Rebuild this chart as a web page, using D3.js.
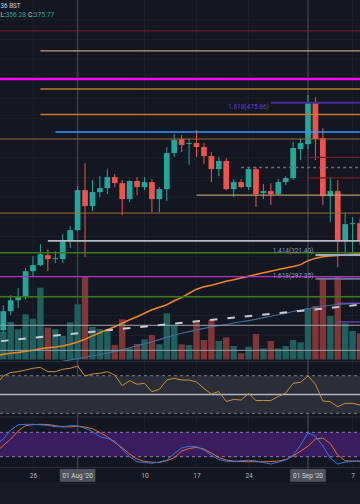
<!DOCTYPE html>
<html><head><meta charset="utf-8">
<script src="https://cdn.jsdelivr.net/npm/d3@7"></script>
<style>html,body{margin:0;padding:0;background:#131722;overflow:hidden}svg{display:block}</style>
</head><body>
<svg id="c" width="360" height="504"></svg>
<script>
// ---------- DATA ----------
const candleStart = "2020-07-22", candleEnd = "2020-09-08";
const open  = [245.1,264.4,275.5,278.6,305.0,311.1,321.2,317.2,317.2,335.4,
  346.6,387.2,371.0,385.2,389.2,400.4,394.3,378.1,396.4,390.3,
  395.3,378.1,388.2,424.8,439.0,433.9,434.9,430.9,421.7,408.5,
  416.7,388.2,395.3,390.3,408.5,384.2,386.2,383.2,395.3,399.4,428.8,
  433.9,475.6,440.0,381.1,386.2,336.4,352.7,353.7];
const high  = [270.4,280.6,287.7,308.0,320.2,332.4,327.3,325.3,342.5,350.7,
  391.3,414.6,397.4,401.4,408.5,403.5,397.4,397.4,400.4,400.4,
  398.4,390.3,430.9,444.1,443.1,439.0,448.1,434.9,425.8,420.7,
  419.7,398.4,398.4,410.6,410.6,393.3,394.3,398.4,401.4,436.0,440.0,
  483.7,481.6,450.2,400.4,397.4,363.9,359.8,358.8];
const low   = [242.0,260.3,267.4,276.5,299.9,310.0,305.0,313.1,313.1,328.3,
  345.6,319.2,365.9,380.1,383.2,390.3,361.8,375.0,382.1,387.2,
  364.9,364.9,376.0,420.7,425.8,412.6,420.7,413.6,395.3,401.4,
  387.2,380.1,389.2,387.2,370.0,378.1,372.0,382.1,392.3,397.4,417.7,
  428.8,417.7,372.0,354.7,309.0,321.2,324.3,331.4];
const close = [264.4,275.5,278.6,305.0,311.1,322.2,317.2,318.2,335.4,346.6,
  387.2,371.0,385.2,389.2,400.4,394.3,378.1,396.4,390.3,395.3,
  378.1,388.2,424.8,438.0,432.9,434.9,430.9,421.7,408.5,416.7,
  388.2,395.3,390.3,408.5,383.2,386.2,383.2,395.3,399.4,429.9,434.9,
  475.6,439.0,381.1,386.2,336.4,352.7,353.7,336.4];
const volume = [27.8,37.5,30.3,45.2,40.8,71.8,31.8,30.3,23.6,37.2,
  55.2,82.8,32.5,30.5,27.8,14.5,40.2,11.2,15.5,20.2,
  24.5,15.2,46.2,34.5,15.2,14.5,37.2,19.5,39.5,18.5,
  22.2,13.5,6.2,12.8,25.5,11.2,18.5,11.2,13.5,19.5,17.2,
  51.2,53.5,80.5,43.5,83.5,36.2,28.5,26.2];

// indicator series start one day earlier (2020-07-21)
const lineStart = "2020-07-21";
const maOrange = [218.9,220.7,221.7,222.5,223.7,224.8,226.3,227.2,228.0,229.0,230.8,
  233.1,235.9,239.3,242.5,245.6,248.6,252.2,255.7,258.8,262.3,
  265.9,268.4,270.9,275.0,278.1,282.6,286.7,289.2,290.8,292.8,
  294.8,296.3,298.1,299.9,301.7,303.4,305.0,306.7,308.2,309.8,311.6,
  315.6,318.2,319.7,320.4,321.0,321.7,322.4,322.9];
const blueStart = "2020-07-30";
const maBlue = [213.6,215.1,
  216.3,217.6,219.2,220.5,221.9,223.7,225.2,227.3,229.3,231.3,
  233.4,235.6,237.9,240.0,242.0,243.7,245.4,246.9,248.4,249.6,
  250.9,252.4,253.7,254.9,256.2,257.8,259.3,260.8,262.3,264.1,265.4,
  266.9,268.2,269.4,270.4,271.2,271.7,272.0,272.2];
const rsi = [60.1,69.7,73.4,74.3,76.1,77.9,78.9,74.3,74.3,76.8,77.9,
  80.3,69.7,71.8,72.6,74.3,70.7,59.4,64.7,60.9,61.9,
  53.0,55.5,65.4,67.2,65.4,65.4,63.3,56.4,50.5,53.2,
  42.6,44.7,44.1,51.1,43.6,43.6,43.6,47.9,51.6,61.9,63.0,
  69.7,60.9,43.1,42.3,37.0,40.6,40.6,38.8];
const stochK = [50.0,63.4,85.6,98.4,99.6,99.6,98.4,96.9,93.9,93.2,96.6,
  95.9,89.7,82.1,69.3,64.7,58.5,37.6,19.9,7.6,5.7,
  3.9,6.9,11.8,27.8,41.3,45.7,44.5,36.4,24.1,13.0,
  8.9,7.6,10.1,11.3,9.8,5.7,2.0,6.9,11.8,24.1,48.7,
  78.7,70.8,46.2,16.7,2.0,6.9,8.6,9.3];
const stochD = [31.5,47.5,63.4,83.1,96.6,98.8,99.6,99.1,96.4,93.4,93.4,
  94.9,92.9,88.8,79.4,69.1,54.8,41.8,26.6,14.3,8.6,
  6.4,5.4,10.6,17.2,33.9,40.1,43.0,38.8,29.0,17.9,
  11.8,9.3,8.1,7.6,7.6,7.6,8.1,9.3,13.0,21.6,33.9,
  45.7,63.4,65.9,52.3,24.1,9.8,9.3,9.3];

// drawn horizontal levels (price, start date or null = full width)
const levelPrice = [548.7,528.4,499.9,489.8,475.86,463.9,446.1,439.0,420.4,410.1,399.7,382.1,
  363.9,335.7,323.7,321.40,299.4,297.35,279.1,272.5,253.5,250.1,224.7];
const levelFrom = [null,"2020-07-27",null,"2020-07-27","2020-08-27","2020-07-27","2020-07-29",null,
  "2020-09-01","2020-08-23","2020-09-01","2020-08-17",null,"2020-07-28",null,"2020-09-02",
  null,"2020-09-02",null,"2020-09-05","2020-09-05",null,null];
const fibLabels = ["1.618(475.86)","1.414(321.40)","1.618(297.35)"];
const fibPrices = [475.86,321.40,297.35];
const fibFrom = ["2020-08-27","2020-09-02","2020-09-02"];
// trend line (two anchor points)
const trendDates = ["2020-07-21","2020-09-08"];
const trendPrices = [233.5,270.9];

const tickDates = ["2020-07-26","2020-08-10","2020-08-17","2020-08-24","2020-09-07"];
const tickLabels = ["26","10","17","24","7"];
const markerDates = ["2020-08-01","2020-09-01"];
const markerLabels = ["01 Aug '20","01 Sep '20"];
const rsiLevels = [70,50,30];
const stochLevels = [80,20];

// ---------- DRAW ----------
const parse = d3.utcParse("%Y-%m-%d");
const candleDates = d3.utcDay.range(parse(candleStart), d3.utcDay.offset(parse(candleEnd),1));
const lineDates = d3.utcDay.range(parse(lineStart), d3.utcDay.offset(parse(candleEnd),1));
const blueDates = d3.utcDay.range(parse(blueStart), d3.utcDay.offset(parse(candleEnd),1));
const candles = candleDates.map((d,i)=>({d,o:open[i],h:high[i],l:low[i],c:close[i],v:volume[i]}));

const svg = d3.select("#c");
const FONT = "Roboto, 'Liberation Sans', sans-serif";
const x = d3.scaleUtc().domain([parse("2020-07-26"),parse("2020-09-07")]).range([33,352.6]);
const y = d3.scaleLinear().domain([297.35,475.86]).range([278.7,102.7]);
const yV = d3.scaleLinear().domain([0,100]).range([359.5,259.5]);
const yR = d3.scaleLinear().domain([30,70]).range([413.3,375.7]);
const yS = d3.scaleLinear().domain([20,80]).range([456.7,432.3]);
const TEAL="#26a69a", RED="#ef5350";

svg.append("rect").attr("width",360).attr("height",504).attr("fill","#131722");
const defs = svg.append("defs");
function clip(id,y0,y1){defs.append("clipPath").attr("id",id).append("rect").attr("x",0).attr("y",y0).attr("width",360).attr("height",y1-y0);}
clip("cp",0,361); clip("cr",362,416.5); clip("cs",417.5,467);

// grid
const grid = svg.append("g");
const gridPrices = d3.range(220, 561, 20);
grid.selectAll("line.h").data(gridPrices).join("line")
  .attr("x1",0).attr("x2",360).attr("y1",d=>y(d)).attr("y2",d=>y(d))
  .attr("stroke","#1c202b").attr("stroke-width",1).attr("clip-path","url(#cp)");
grid.selectAll("line.v").data(tickDates).join("line")
  .attr("x1",d=>x(parse(d))).attr("x2",d=>x(parse(d))).attr("y1",0).attr("y2",467)
  .attr("stroke","#1d212c").attr("stroke-width",1);

// pane separators
[361.5,417,467.5,484].forEach(v=>svg.append("line").attr("x1",0).attr("x2",360).attr("y1",v).attr("y2",v).attr("stroke","#2a2e39").attr("stroke-width",1));
svg.append("rect").attr("x",0).attr("y",484.5).attr("width",360).attr("height",20).attr("fill","#151924");

// vertical marker lines
svg.selectAll("line.mk").data(markerDates).join("line")
  .attr("x1",d=>x(parse(d))).attr("x2",d=>x(parse(d))).attr("y1",0).attr("y2",469)
  .attr("stroke","#3b3f4a").attr("stroke-width",1.5);

// price pane
const P = svg.append("g").attr("clip-path","url(#cp)");
// volume
P.selectAll("rect.vol").data(candles).join("rect")
  .attr("x",d=>x(d.d)-3.2).attr("width",6.4)
  .attr("y",d=>yV(d.v)).attr("height",d=>yV(0)-yV(d.v))
  .attr("fill",d=>d.c>=d.o?"#1f5f5d":"#803539");

// moving averages
const lineGen = (sc,dates)=>d3.line().x((d,i)=>x(dates[i])).y(d=>sc(d));
P.append("path").datum(maBlue).attr("d",lineGen(y,blueDates)).attr("fill","none").attr("stroke","#3f6c9e").attr("stroke-width",1.2);
P.append("path").datum(maOrange).attr("d",lineGen(y,lineDates)).attr("fill","none").attr("stroke","#f0861c").attr("stroke-width",1.5);

// candles
const cg = P.append("g");
cg.selectAll("line.w").data(candles).join("line")
  .attr("x1",d=>x(d.d)).attr("x2",d=>x(d.d)).attr("y1",d=>y(d.h)).attr("y2",d=>y(d.l))
  .attr("stroke",d=>d.c>=d.o?TEAL:RED).attr("stroke-width",1);
cg.selectAll("rect.b").data(candles).join("rect")
  .attr("x",d=>x(d.d)-2.85).attr("width",5.7)
  .attr("y",d=>y(Math.max(d.o,d.c))).attr("height",d=>Math.max(1,Math.abs(y(d.o)-y(d.c))))
  .attr("fill",d=>d.c>=d.o?TEAL:RED);

// horizontal levels (styles by index)
const levelStyle = [
  ["#7a1c22",1],["#c99a6e",1.3],["#ff00ff",2.5],["#c7792e",1.5],["#4e2a92",2],["#c7792e",1.5],
  ["#2e9bff",1.5],["#9a6631",1],["#7a1c22",1.2],["#6b6e78",1.5,"3,3"],["#7a1c22",1.2],["#b99a68",1.2],
  ["#a86a2a",1],["#b7b9c0",1.8],["#3b7a19",1.5],["#a0a9bf",2],["#b42fc0",1.3],["#6a7794",2],
  ["#3b7a19",1.5],["#8552d6",1],["#8552d6",1],["#a0a3ab",1],["#9a9da6",1]];
levelPrice.forEach((p,i)=>{
  const st=levelStyle[i];
  const ln=P.append("line").attr("x1",levelFrom[i]?x(parse(levelFrom[i])):0).attr("x2",360)
    .attr("y1",y(p)).attr("y2",y(p)).attr("stroke",st[0]).attr("stroke-width",st[1]);
  if(st[2]) ln.attr("stroke-dasharray",st[2]);
});
// trend line dashed
P.append("line").attr("x1",x(parse(trendDates[0]))).attr("x2",x(parse(trendDates[1])))
  .attr("y1",y(trendPrices[0])).attr("y2",y(trendPrices[1]))
  .attr("stroke","#c9cbd1").attr("stroke-width",2).attr("stroke-dasharray","7.5,10").attr("stroke-dashoffset",12.3);

// fib labels
const fibDy=[6.1,-1.9,-0.4], fibCol=["#6b3ad0","#7b95c4","#7b95c4"];
fibLabels.forEach((t,i)=>{
  P.append("text").attr("x",x(parse(fibFrom[i]))-2).attr("y",y(fibPrices[i])+fibDy[i])
    .attr("text-anchor","end").attr("font-family",FONT).attr("font-size",6.5).attr("fill",fibCol[i]).text(t);
});

// RSI pane
const R = svg.append("g").attr("clip-path","url(#cr)");
R.append("rect").attr("x",0).attr("width",360).attr("y",yR(70)).attr("height",yR(30)-yR(70)).attr("fill","#2a2e39");
R.selectAll("line.rl").data(rsiLevels).join("line")
  .attr("x1",0).attr("x2",360).attr("y1",d=>yR(d)).attr("y2",d=>yR(d))
  .attr("stroke",d=>d===50?"#b2b5be":"#787b86").attr("stroke-width",d=>d===50?1.4:1)
  .attr("stroke-dasharray",d=>d===50?null:"3,3");
R.append("path").datum(rsi).attr("d",lineGen(yR,lineDates)).attr("fill","none").attr("stroke","#d08b3a").attr("stroke-width",1);

// Stoch pane
const S = svg.append("g").attr("clip-path","url(#cs)");
S.append("rect").attr("x",0).attr("width",360).attr("y",yS(80)).attr("height",yS(20)-yS(80)).attr("fill","#391d60");
S.selectAll("line.sl").data(stochLevels).join("line")
  .attr("x1",0).attr("x2",360).attr("y1",d=>yS(d)).attr("y2",d=>yS(d))
  .attr("stroke","#8d7fb0").attr("stroke-width",1).attr("stroke-dasharray","3,3");
S.append("path").datum(stochD).attr("d",lineGen(yS,lineDates)).attr("fill","none").attr("stroke","#f0682a").attr("stroke-width",1);
S.append("path").datum(stochK).attr("d",lineGen(yS,lineDates)).attr("fill","none").attr("stroke","#2b7be6").attr("stroke-width",1);

// time axis
const ax = svg.append("g").attr("transform","translate(0,471)")
  .call(d3.axisBottom(x).tickValues(tickDates.map(parse)).tickFormat((d,i)=>tickLabels[i]).tickSize(0).tickPadding(2));
ax.select(".domain").remove();
ax.selectAll("text").attr("font-family",FONT).attr("font-size",6.5).attr("fill","#b2b5be");
markerDates.forEach((d,i)=>{
  const cx=x(parse(d));
  svg.append("rect").attr("x",cx-17.8).attr("y",469).attr("width",35.6).attr("height",12.7).attr("fill","#50535e").attr("rx",1);
  svg.append("text").attr("x",cx).attr("y",477.6).attr("text-anchor","middle").attr("font-family",FONT)
    .attr("font-size",6.5).attr("fill","#d1d4dc").text(markerLabels[i]);
});

// header
svg.append("text").attr("x",0.5).attr("y",8).attr("font-family",FONT).attr("font-size",6.3).attr("fill","#d1d4dc").text("36 BST");
const hdr = svg.append("text").attr("x",0.5).attr("y",17.3).attr("font-family",FONT).attr("font-size",6.6);
hdr.append("tspan").attr("fill","#d1d4dc").text("L:");
hdr.append("tspan").attr("fill",TEAL).text("356.28");
hdr.append("tspan").attr("fill","#d1d4dc").attr("dx",2).text("C:");
hdr.append("tspan").attr("fill",TEAL).text("375.77");
</script>
</body></html>
